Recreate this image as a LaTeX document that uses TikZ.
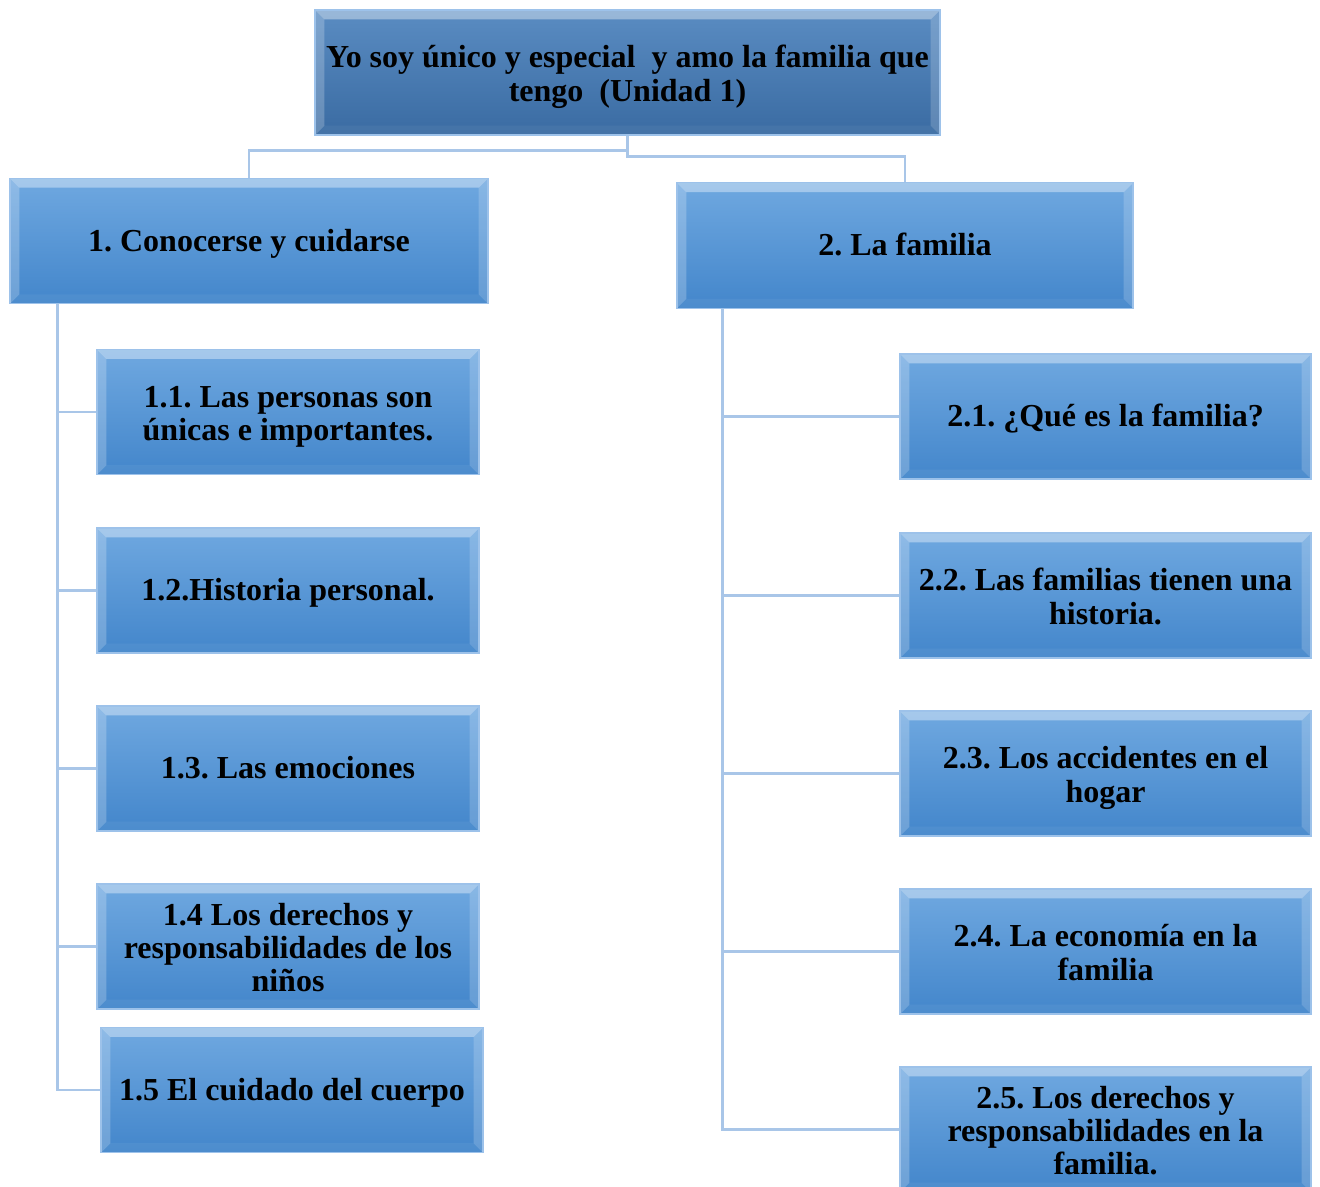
\documentclass[tikz,border=0pt]{standalone}
\usepackage{fontspec}
\setmainfont{Liberation Serif}
\frenchspacing
\newcommand\topstrut{\rule{0pt}{24pt}}
\newcommand\botstrut{\rule[-6pt]{0pt}{6pt}}
\begin{document}
\begin{tikzpicture}[x=0.75pt,y=-0.75pt]
\definecolor{rootTop}{HTML}{5A8CC2}
\definecolor{rootBot}{HTML}{3A6BA2}
\definecolor{boxTop}{HTML}{6FA8E0}
\definecolor{boxBot}{HTML}{4386CB}
\definecolor{lineC}{HTML}{A9C6E8}
\definecolor{edgeC}{HTML}{9DC2EA}
\tikzset{
  bevel/.style={path picture={
    \fill[white,opacity=.38] (path picture bounding box.north west) -- (path picture bounding box.north east)
      -- ([shift={(-7pt,-7pt)}]path picture bounding box.north east) -- ([shift={(7pt,-7pt)}]path picture bounding box.north west) -- cycle;
    \fill[white,opacity=.22] (path picture bounding box.north west) -- ([shift={(7pt,-7pt)}]path picture bounding box.north west)
      -- ([shift={(7pt,7pt)}]path picture bounding box.south west) -- (path picture bounding box.south west) -- cycle;
    \fill[white,opacity=.18] (path picture bounding box.north east) -- ([shift={(-7pt,-7pt)}]path picture bounding box.north east)
      -- ([shift={(-7pt,7pt)}]path picture bounding box.south east) -- (path picture bounding box.south east) -- cycle;
    \fill[white,opacity=.05] (path picture bounding box.south west) -- ([shift={(7pt,7pt)}]path picture bounding box.south west)
      -- ([shift={(-7pt,7pt)}]path picture bounding box.south east) -- (path picture bounding box.south east) -- cycle;
  }},
  boxbase/.style={rectangle, draw=edgeC, line width=0.8pt, align=center, inner sep=2pt,
    font=\fontsize{24pt}{25pt}\selectfont\bfseries, bevel},
  rootbox/.style={boxbase, top color=rootTop, bottom color=rootBot, minimum width=468.75pt, minimum height=93.75pt},
  lvlone/.style={boxbase, top color=boxTop, bottom color=boxBot, minimum height=94pt},
  leftbox/.style={boxbase, top color=boxTop, bottom color=boxBot, minimum width=286.5pt, minimum height=93.75pt},
  rightbox/.style={boxbase, top color=boxTop, bottom color=boxBot, minimum width=308.25pt, minimum height=93.75pt},
  conn/.style={draw=lineC, line width=2pt}
}
\useasboundingbox (0,0) rectangle (1320,1186);
\fill[white] (0,0) rectangle (1320,1186);

\node[rootbox] (root) at (627.5,72.5) {\topstrut Yo soy único y especial~ y amo la familia que\\tengo~ (Unidad 1)\botstrut};
\node[lvlone, minimum width=358.5pt] (b1) at (249,241) {\rule{0pt}{21.5pt}1. Conocerse y cuidarse\botstrut};
\node[lvlone, minimum width=342pt] (b2) at (905,245.5) {\rule{0pt}{21.5pt}2. La familia\botstrut};

\node[leftbox] (c11) at (288,412) {\topstrut 1.1. Las personas son\\únicas e importantes.\botstrut};
\node[leftbox] (c12) at (288,590.5) {\rule{0pt}{21.5pt}1.2.Historia personal.\botstrut};
\node[leftbox] (c13) at (288,768.5) {\rule{0pt}{21.5pt}1.3. Las emociones\botstrut};
\node[leftbox] (c14) at (288,946.5) {\topstrut 1.4 Los derechos y\\responsabilidades de los\\niños\botstrut};
\node[leftbox] (c15) at (292,1090) {\rule{0pt}{21.5pt}1.5 El cuidado del cuerpo\botstrut};

\node[rightbox] (c21) at (1105.5,416.5) {\rule{0pt}{21.5pt}2.1. ¿Qué es la familia?\botstrut};
\node[rightbox] (c22) at (1105.5,595.5) {\topstrut 2.2. Las familias tienen una\\historia.\botstrut};
\node[rightbox] (c23) at (1105.5,773.5) {\topstrut 2.3. Los accidentes en el\\hogar\botstrut};
\node[rightbox] (c24) at (1105.5,951.5) {\topstrut 2.4. La economía en la\\familia\botstrut};
\node[rightbox] (c25) at (1105.5,1129.5) {\topstrut 2.5. Los derechos y\\responsabilidades en la\\familia.\botstrut};

\draw[conn] (root.south) -- ++(0,15) -| (b1.north);
\draw[conn] (root.south) -- ++(0,21) -| (b2.north);

\coordinate (lt) at ([xshift=36pt]b1.south west);
\coordinate (rt) at ([xshift=34.5pt]b2.south west);
\foreach \c in {c11,c12,c13,c14,c15} \draw[conn] (lt) |- (\c.west);
\foreach \c in {c21,c22,c23,c24,c25} \draw[conn] (rt) |- (\c.west);
\end{tikzpicture}
\end{document}
